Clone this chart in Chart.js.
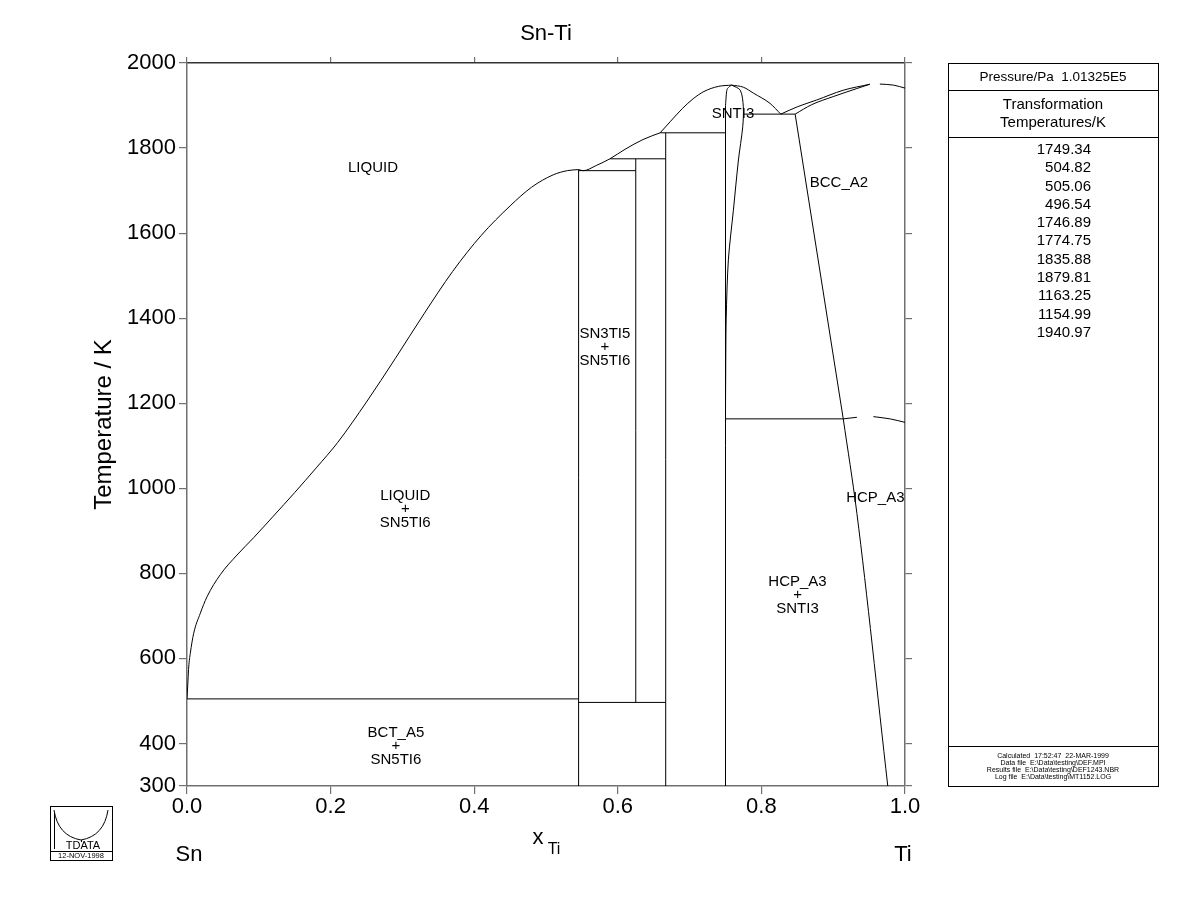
<!DOCTYPE html>
<html>
<head>
<meta charset="utf-8">
<title>Sn-Ti</title>
<script src="https://cdn.jsdelivr.net/npm/chart.js@4.4.1/dist/chart.umd.min.js"></script>
<style>
  html, body { margin: 0; padding: 0; background: #fff; }
  #wrap { width: 1200px; height: 923px; }
</style>
</head>
<body>
<div id="wrap"><canvas id="phaseChart" width="1200" height="923"></canvas></div>
<script>
// Sn-Ti phase diagram (Thermo-Calc style), x = mole fraction Ti, y = T / K

const xTicks    = [0, 0.2, 0.4, 0.6, 0.8, 1.0];
const tempTicks = [300, 400, 600, 800, 1000, 1200, 1400, 1600, 1800, 2000];

// phase boundaries as [x_Ti, T] pairs
const liquidusSn = [
  [0, 505.06], [0.0014, 549], [0.0024, 580], [0.0046, 612], [0.0093, 659],
  [0.0185, 706], [0.0279, 745], [0.0464, 797], [0.0696, 843], [0.0929, 884],
  [0.12, 934], [0.15, 990], [0.18, 1048], [0.21, 1108], [0.25, 1203],
  [0.29, 1305], [0.33, 1410], [0.37, 1510], [0.41, 1595], [0.45, 1664],
  [0.48, 1708], [0.51, 1737], [0.53, 1747], [0.5454, 1749.34]
];
const liquidusSn3Ti5 = [
  [0.5454, 1749.34], [0.552, 1746.89], [0.57, 1759], [0.589, 1774.75],
  [0.61, 1797], [0.635, 1820], [0.659, 1835.88]
];
const liquidusSnTi3L = [
  [0.659, 1835.88], [0.673, 1862], [0.69, 1893], [0.705, 1916],
  [0.72, 1933], [0.74, 1945], [0.7586, 1948]
];
const liquidusSnTi3R = [
  [0.7586, 1948], [0.775, 1943], [0.789, 1929], [0.812, 1905], [0.827, 1879.81]
];
const liquidusBccA = [
  [0.827, 1879.81], [0.85, 1897], [0.877, 1913], [0.914, 1936], [0.951, 1950]
];
const liquidusBccB = [
  [0.965, 1950.5], [0.984, 1948], [1.0, 1940.97]
];
const solidusBcc = [
  [0.847, 1879.81], [0.87, 1902], [0.9, 1921], [0.933, 1940], [0.951, 1950]
];
const snTi3Top = [
  [0.75, 1900], [0.7515, 1932], [0.7545, 1943], [0.7586, 1948]
];
const snTi3Right = [
  [0.7586, 1948], [0.7706, 1936], [0.7748, 1897], [0.774, 1850], [0.768, 1772],
  [0.761, 1654], [0.754, 1537], [0.751, 1400], [0.7502, 1250], [0.75, 1163.25]
];
const hcpBoundary = [[0.914, 1163.25], [0.933, 941], [0.976, 300]];
const hcpBccA     = [[0.914, 1163.25], [0.933, 1167]];
const hcpBccB     = [[0.956, 1168.5], [0.98, 1163], [1.0, 1154.99]];
const bccBoundary = [[0.847, 1879.81], [0.914, 1163.25]];

// invariant lines
const eutecticSn   = [[0, 504.82], [0.5454, 504.82]];
const perit497     = [[0.5454, 496.54], [0.6667, 496.54]];
const eutect1747   = [[0.5454, 1746.89], [0.625, 1746.89]];
const perit1775    = [[0.589, 1774.75], [0.6667, 1774.75]];
const perit1836    = [[0.659, 1835.88], [0.75, 1835.88]];
const eutect1880   = [[0.7745, 1879.81], [0.847, 1879.81]];
const eutectoid    = [[0.75, 1163.25], [0.914, 1163.25]];

// compound lines
const sn5ti6 = [[0.5454, 300], [0.5454, 1749.34]];
const sn3ti5 = [[0.625, 496.54], [0.625, 1774.75]];
const snti2  = [[0.6667, 300], [0.6667, 1835.88]];
const snti3  = [[0.75, 300], [0.75, 1900]];

const smoothCurves = [liquidusSn, liquidusSn3Ti5, liquidusSnTi3L, liquidusSnTi3R,
                      liquidusBccA, liquidusBccB, solidusBcc, snTi3Top,
                      hcpBoundary, hcpBccA, hcpBccB];
const bentCurves   = [snTi3Right];
const straight     = [bccBoundary, eutecticSn, perit497, eutect1747, perit1775,
                      perit1836, eutect1880, eutectoid, sn5ti6, sn3ti5, snti2, snti3];

// region labels: text lines anchored at (x_Ti, T)
const regionLabels = [
  { lines: ['LIQUID'], x: 0.259, T: 1753 },
  { lines: ['LIQUID', '+', 'SN5TI6'], x: 0.304, T: 952 },
  { lines: ['BCT_A5', '+', 'SN5TI6'], x: 0.291, T: 395 },
  { lines: ['SN3TI5', '+', 'SN5TI6'], x: 0.582, T: 1332 },
  { lines: ['SNTI3'], x: 0.7604, T: 1880 },
  { lines: ['BCC_A2'], x: 0.908, T: 1718 },
  { lines: ['HCP_A3'], x: 0.9587, T: 977 },
  { lines: ['HCP_A3', '+', 'SNTI3'], x: 0.8503, T: 749 }
];

const transTemps = ['1749.34', '504.82', '505.06', '496.54', '1746.89', '1774.75',
                    '1835.88', '1879.81', '1163.25', '1154.99', '1940.97'];
const infoLines = [
  'Calculated  17:52:47  22-MAR-1999',
  'Data file  E:\\Data\\testing\\DEF.MPI',
  'Results file  E:\\Data\\testing\\DEF1243.NBR',
  'Log file  E:\\Data\\testing\\MT1152.LOG'
];

const FONT = '"Liberation Sans", Arial, Helvetica, sans-serif';
const axisGrey = '#707070';

function toPoints(pairs) {
  return pairs.map(p => ({ x: p[0], y: p[1] }));
}

const datasets = [
  ...smoothCurves.map(c => ({ data: toPoints(c), cubicInterpolationMode: 'monotone' })),
  ...bentCurves.map(c => ({ data: toPoints(c), tension: 0.3 })),
  ...straight.map(c => ({ data: toPoints(c), tension: 0 }))
].map(d => Object.assign(d, {
  showLine: true,
  borderColor: '#000',
  borderWidth: 1,
  pointRadius: 0,
  pointHoverRadius: 0,
  fill: false
}));

const fixTicks = list => scale => { scale.ticks = list.map(v => ({ value: v })); };

const textPlugin = {
  id: 'phaseText',
  afterDraw(chart) {
    const { ctx, chartArea: area, scales: { x, y } } = chart;
    ctx.save();
    ctx.fillStyle = '#000';
    ctx.textBaseline = 'middle';

    // title
    ctx.textAlign = 'center';
    ctx.font = `22px ${FONT}`;
    ctx.fillText('Sn-Ti', (area.left + area.right) / 2, 34);

    // x axis title with subscript + end members
    ctx.fillText('x', 538, 838);
    ctx.font = `16px ${FONT}`;
    ctx.fillText('Ti', 554, 850);
    ctx.font = `22px ${FONT}`;
    ctx.fillText('Sn', area.left + 2, 855);
    ctx.fillText('Ti', area.right - 2, 855);

    // region labels
    ctx.font = `15px ${FONT}`;
    regionLabels.forEach(lab => {
      const px = x.getPixelForValue(lab.x);
      const py = y.getPixelForValue(lab.T);
      if (lab.lines.length === 1) {
        ctx.fillText(lab.lines[0], px, py);
      } else {
        ctx.fillText(lab.lines[0], px, py - 13);
        ctx.fillText(lab.lines[1], px, py);
        ctx.fillText(lab.lines[2], px, py + 14);
      }
    });

    // side panel
    const pl = area.right + 43, pr = pl + 210, pc = (pl + pr) / 2;
    ctx.strokeStyle = '#000';
    ctx.lineWidth = 1;
    ctx.strokeRect(pl + 0.5, area.top + 0.5, pr - pl, area.bottom - area.top);
    [90, 137, 746].forEach(yy => {
      ctx.beginPath();
      ctx.moveTo(pl, yy + 0.5);
      ctx.lineTo(pr, yy + 0.5);
      ctx.stroke();
    });
    ctx.font = `13.5px ${FONT}`;
    ctx.fillText('Pressure/Pa  1.01325E5', pc, 77);
    ctx.font = `15px ${FONT}`;
    ctx.fillText('Transformation', pc, 105);
    ctx.fillText('Temperatures/K', pc, 123);
    ctx.textAlign = 'right';
    transTemps.forEach((t, i) => ctx.fillText(t, pl + 143, 150 + i * 18.27));
    ctx.textAlign = 'center';
    ctx.font = `7px ${FONT}`;
    infoLines.forEach((t, i) => ctx.fillText(t, pc, 756 + i * 7));

    // TDATA logo
    const lx = 50, ly = 806, lw = 62;
    ctx.strokeRect(lx + 0.5, ly + 0.5, lw, 54);
    ctx.beginPath();
    ctx.moveTo(lx, 851.5); ctx.lineTo(lx + lw, 851.5);
    ctx.stroke();
    ctx.beginPath();
    ctx.moveTo(lx + 4, ly + 4);
    ctx.quadraticCurveTo(lx + 8, ly + 30, lx + 31, ly + 34);
    ctx.quadraticCurveTo(lx + 54, ly + 30, lx + 58, ly + 4);
    ctx.moveTo(lx + 4.5, ly + 6); ctx.lineTo(lx + 4.5, ly + 43);
    ctx.moveTo(lx + 31.5, ly + 34); ctx.lineTo(lx + 31.5, ly + 36);
    ctx.stroke();
    ctx.font = `11px ${FONT}`;
    ctx.fillText('TDATA', lx + 33, ly + 40);
    ctx.font = `7.5px ${FONT}`;
    ctx.fillText('12-NOV-1998', lx + lw / 2, 856);
    ctx.restore();
  }
};

new Chart(document.getElementById('phaseChart'), {
  type: 'scatter',
  data: { datasets },
  options: {
    responsive: false,
    devicePixelRatio: 1,
    animation: false,
    events: [],
    layout: { padding: { left: 0, top: 57, right: 288, bottom: 0 } },
    plugins: { legend: { display: false }, tooltip: { enabled: false } },
    scales: {
      x: {
        type: 'linear', position: 'bottom', min: 0, max: 1,
        afterBuildTicks: fixTicks(xTicks),
        ticks: {
          color: '#000', font: { family: FONT, size: 22 }, padding: 0,
          autoSkip: false, maxRotation: 0, callback: v => v.toFixed(1)
        },
        grid: { drawOnChartArea: false, tickLength: 8, color: axisGrey, lineWidth: 1.2 },
        border: { color: axisGrey, width: 1.5 },
        afterFit: s => { s.height = 137; s.paddingLeft = 0; s.paddingRight = 0; }
      },
      xTop: {
        type: 'linear', position: 'top', min: 0, max: 1,
        afterBuildTicks: fixTicks(xTicks),
        ticks: { display: false },
        grid: { drawOnChartArea: false, tickLength: 6, color: axisGrey, lineWidth: 1.2 },
        border: { color: '#333', width: 1.5 },
        afterFit: s => { s.height = 6; s.paddingLeft = 0; s.paddingRight = 0; }
      },
      y: {
        type: 'linear', position: 'left', min: 300, max: 2000,
        afterBuildTicks: fixTicks(tempTicks),
        ticks: {
          color: '#000', font: { family: FONT, size: 22 }, padding: 3,
          autoSkip: false, callback: v => String(v)
        },
        grid: { drawOnChartArea: false, tickLength: 8, color: axisGrey, lineWidth: 1.2 },
        border: { color: axisGrey, width: 1.5 },
        title: {
          display: true, text: 'Temperature / K', color: '#000',
          font: { family: FONT, size: 24 }, padding: { top: 90, bottom: 0 }
        },
        afterFit: s => { s.width = 187; s.paddingTop = 0; s.paddingBottom = 0; }
      },
      yRight: {
        type: 'linear', position: 'right', min: 300, max: 2000,
        afterBuildTicks: fixTicks(tempTicks),
        ticks: { display: false },
        grid: { drawOnChartArea: false, tickLength: 7, color: axisGrey, lineWidth: 1.2 },
        border: { color: axisGrey, width: 1.5 },
        afterFit: s => { s.width = 7; s.paddingTop = 0; s.paddingBottom = 0; }
      }
    }
  },
  plugins: [textPlugin]
});
</script>
</body>
</html>
